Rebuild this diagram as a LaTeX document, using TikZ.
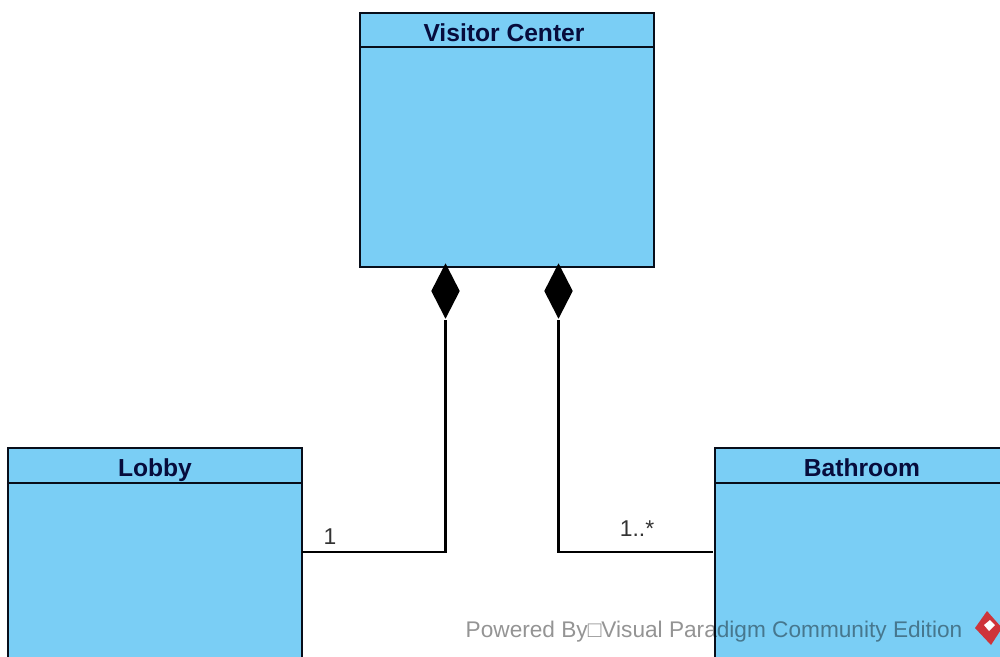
\documentclass[tikz,border=0pt]{standalone}
\usepackage{fontspec}
\setmainfont{Liberation Sans}
\usetikzlibrary{positioning,shapes.geometric}
\definecolor{classblue}{RGB}{122,206,245}
\definecolor{linkdark}{RGB}{8,14,26}
\definecolor{markred}{RGB}{206,52,58}
\begin{document}
\begin{tikzpicture}[x=0.01cm,y=-0.01cm,
  classhead/.style={draw=linkdark,fill=classblue,line width=0.55pt,minimum width=2.94cm,minimum height=0.345cm,inner sep=0pt,outer sep=0pt,text=linkdark!85!blue,text height=0.22cm,text depth=0pt,font=\fontsize{7}{8}\selectfont\bfseries},
  classbody/.style={draw=linkdark,fill=classblue,line width=0.55pt,minimum width=2.94cm,inner sep=0pt,outer sep=0pt},
  compmark/.style={diamond,fill=black,inner sep=0pt,minimum width=0.29cm,minimum height=0.56cm,aspect=0.52},
  multlabel/.style={inner sep=0pt,text=black!80,font=\fontsize{6.5}{8}\selectfont},
  link/.style={draw=black,line width=0.62pt}]
\useasboundingbox (0,0) rectangle (1000,656);
\clip (0,0) rectangle (1000,656);
\fill[white] (0,0) rectangle (1000,656);
% classes
\node[classhead] (visitorhead) at (507,30) {\hspace{-0.06cm}Visitor Center};
\node[classbody,minimum height=2.2cm,below=0pt of visitorhead] (visitor) {};
\node[classhead] (lobbyhead) at (155,465.5) {Lobby};
\node[classbody,minimum height=2.2cm,below=0pt of lobbyhead] (lobby) {};
\node[classhead] (bathroomhead) at (862,465.5) {Bathroom};
\node[classbody,minimum height=2.2cm,below=0pt of bathroomhead] (bathroom) {};
% composition links
\node[compmark] (lobbymark) at (445.5,291) {};
\node[compmark] (bathroommark) at (558.5,291) {};
\coordinate (lobbyport) at (302,552);
\coordinate (bathroomport) at (713,552);
\draw[link] (lobbyport) -| (lobbymark.south);
\draw[link] (bathroomport) -| (bathroommark.south);
\node[multlabel] (lobbymult) at (330,537) {1};
\node[multlabel] (bathroommult) at (637,529) {1..*};
% watermark
\node[inner sep=0pt,anchor=west,text=black,text opacity=0.42,font=\fontsize{6.44}{8}\selectfont] (powered) at (465,632) {Powered By□Visual Paradigm Community Edition};
\fill[markred] (987,611) -- (1002,628) -- (991,645) -- (975,628) -- cycle;
\fill[white] (990,620) -- (995,625) -- (989,631) -- (984,625) -- cycle;
\end{tikzpicture}
\end{document}
